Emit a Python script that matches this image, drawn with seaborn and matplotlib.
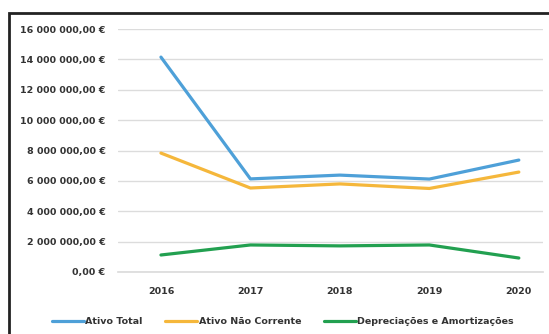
import matplotlib
matplotlib.use("Agg")
import matplotlib.pyplot as plt
import matplotlib.ticker as mticker
from matplotlib.patches import Rectangle
from matplotlib.lines import Line2D
import seaborn as sns
import pandas as pd

years = ["2016", "2017", "2018", "2019", "2020"]
ativo_total = [14_150_000, 6_130_000, 6_380_000, 6_120_000, 7_370_000]
ativo_nao_corrente = [7_830_000, 5_530_000, 5_800_000, 5_500_000, 6_580_000]
depreciacoes = [1_120_000, 1_780_000, 1_720_000, 1_780_000, 920_000]
series_names = ["Ativo Total", "Ativo Não Corrente", "Depreciações e Amortizações"]
colors = ["#4EA0D8", "#F5B73B", "#22A050"]

rows = []
for name, vals in zip(series_names, [ativo_total, ativo_nao_corrente, depreciacoes]):
    for i, (y, v) in enumerate(zip(years, vals)):
        rows.append({"idx": i, "Ano": y, "Valor": v, "Série": name})
df = pd.DataFrame(rows)

sns.set_theme(style="white")
plt.rcParams["font.family"] = ["DejaVu Sans"]

FS = 6.8
W, H = 549, 334
fig = plt.figure(figsize=(W / 100, H / 100), dpi=100)
fig.patch.set_facecolor("white")
ax = fig.add_axes([118 / W, 1 - 272 / H, (543 - 118) / W, (272 - 29) / H])

sns.lineplot(data=df, x="idx", y="Valor", hue="Série", palette=colors,
             linewidth=2.3, ax=ax, legend=False, sort=False)

ax.set_xlim(-0.48, 4.27)
ax.set_ylim(0, 16_000_000)
ax.set_yticks(range(0, 16_000_001, 2_000_000))

def fmt(v, pos):
    s = f"{int(round(v)):,}".replace(",", " ")
    return f"{s},00 €"

ax.yaxis.set_major_formatter(mticker.FuncFormatter(fmt))
ax.set_xticks(range(len(years)))
ax.set_xticklabels(years)
ax.grid(axis="y", color="#DCDCDC", linewidth=1)
ax.grid(axis="x", visible=False)
for s in ["top", "right", "left"]:
    ax.spines[s].set_visible(False)
ax.spines["bottom"].set_color("#DCDCDC")
ax.tick_params(axis="y", length=0, labelsize=FS, colors="#333333", pad=9)
ax.tick_params(axis="x", length=0, labelsize=FS, colors="#333333", pad=11)
for lab in ax.get_yticklabels() + ax.get_xticklabels():
    lab.set_fontweight("bold")
ax.set_xlabel("")
ax.set_ylabel("")

handles = [Line2D([0], [0], color=c, linewidth=2.3) for c in colors]
leg = fig.legend(handles, series_names, loc="center", bbox_to_anchor=(0.515, 1 - 322 / H),
                 ncol=3, frameon=False, fontsize=FS, handlelength=3.4, handletextpad=0.15,
                 columnspacing=2.4)
for t in leg.get_texts():
    t.set_fontweight("bold")
    t.set_color("#333333")

fig.patches.append(Rectangle((9 / W, -0.05), 1.1, 1 - 13 / H + 0.05, transform=fig.transFigure,
                             fill=False, edgecolor="#222222", linewidth=2))

fig.savefig("out.png", dpi=100)
